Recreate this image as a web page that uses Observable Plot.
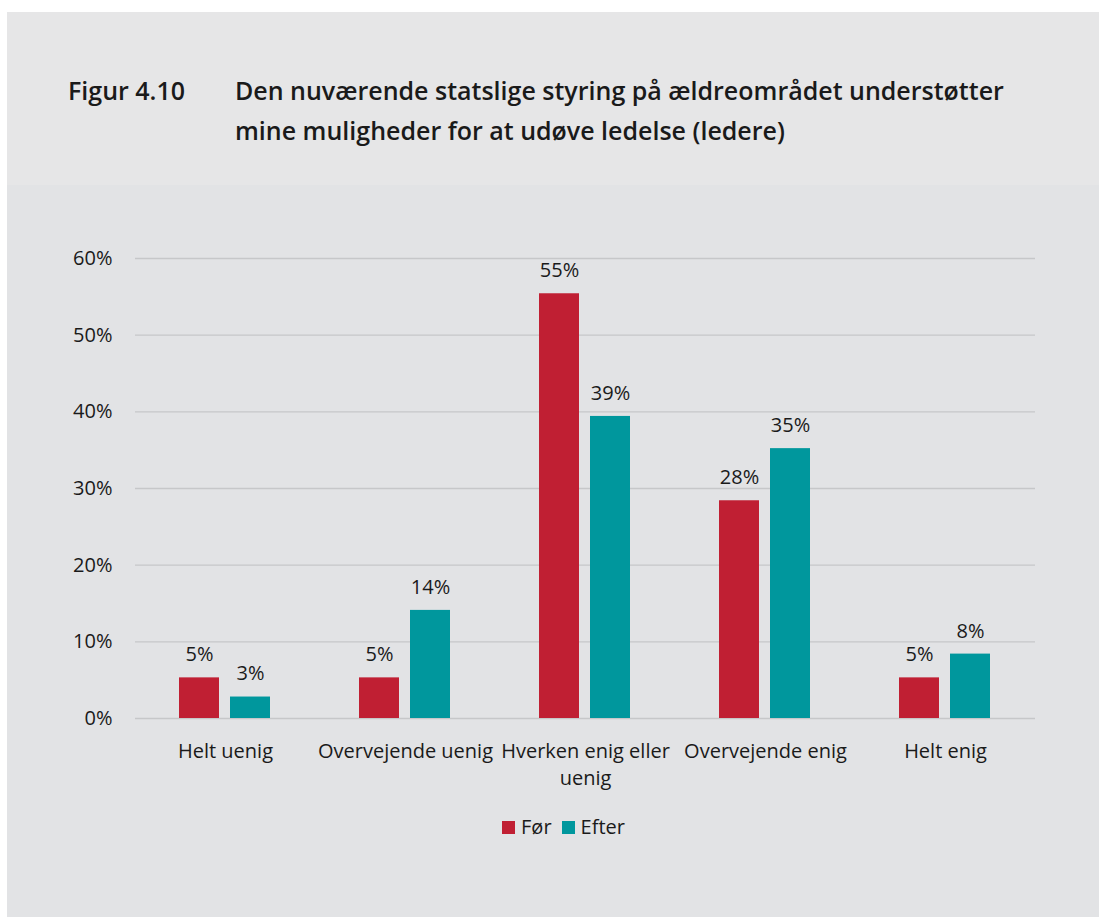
<!DOCTYPE html>
<html><head><meta charset="utf-8">
<script src="https://cdn.jsdelivr.net/npm/d3@7"></script>
<script src="https://cdn.jsdelivr.net/npm/@observablehq/plot@0.6"></script>
<style>
body{margin:0;background:#fff;width:1099px;height:917px;position:relative;overflow:hidden;font-family:"Open Sans",sans-serif;color:#1a1a1a}
#panel{position:absolute;left:7px;top:12px;width:1092px;height:905px;background:#e2e3e5}
#band{position:absolute;left:7px;top:12px;width:1092px;height:173px;background:#e6e6e7}
#fig{position:absolute;left:68px;top:70px;font-size:25px;font-weight:600;line-height:40px}
#title{position:absolute;left:235px;top:70px;width:800px;font-size:25px;font-weight:600;line-height:40px}
#chart{position:absolute;left:0;top:230px}
#legend{position:absolute;left:0;width:1099px;top:813px;text-align:center;font-size:20px;padding-left:28px;box-sizing:border-box}
.sw{display:inline-block;width:13px;height:13px;margin-right:6px;vertical-align:0px}
.it{margin:0 5px}
</style></head><body>
<div id="panel"></div><div id="band"></div>
<div id="fig">Figur 4.10</div>
<div id="title">Den nuværende statslige styring på ældreområdet understøtter mine muligheder for at udøve ledelse (ledere)</div>
<div id="chart"></div>
<div id="legend"></div>
<script>
const categories = ["Helt uenig","Overvejende uenig","Hverken enig eller uenig","Overvejende enig","Helt enig"];
const categoryLabels = ["Helt uenig","Overvejende uenig","Hverken enig eller\nuenig","Overvejende enig","Helt enig"];
const series = ["Før","Efter"];
const colors = ["#c01f33","#00979d"];
const forValues = [5.3, 5.3, 55.4, 28.4, 5.3];
const efterValues = [2.8, 14.1, 39.4, 35.2, 8.4];
const yTicks = [0,10,20,30,40,50,60];

const data = [];
categories.forEach((c,i)=>{
  data.push({cat:c, s:"Før", v:forValues[i]});
  data.push({cat:c, s:"Efter", v:efterValues[i]});
});
const labelOf = Object.fromEntries(categories.map((c,i)=>[c,categoryLabels[i]]));

const plot = Plot.plot({
  width:1099, height:568,
  marginLeft:133, marginRight:63, marginTop:28, marginBottom:80,
  style:{fontFamily:"Open Sans, sans-serif", fontSize:"20px", color:"#1a1a1a", background:"transparent"},
  fx:{domain:categories, padding:0, label:null, axis:null},
  x:{domain:series, paddingInner:0.21, paddingOuter:0.84, axis:null},
  y:{domain:[0,60], ticks:yTicks, label:null},
  color:{domain:series, range:colors},
  marks:[
    Plot.ruleY(yTicks, {stroke:"#c6c7c9", strokeWidth:1.3}),
    Plot.axisY({ticks:yTicks, tickSize:0, tickPadding:23, tickFormat:d=>d+"%", label:null, fontSize:20}),
    Plot.axisFx({anchor:"bottom", tickSize:0, tickPadding:20, tickFormat:d=>labelOf[d], lineHeight:1.35, label:null, fontSize:20, textAnchor:"middle"}),
    Plot.barY(data, {fx:"cat", x:"s", y:"v", fill:"s"}),
    Plot.text(data, {fx:"cat", x:"s", y:"v", text:d=>Math.round(d.v)+"%", dy:-23, fontSize:20, fill:"#1a1a1a"})
  ]
});
document.getElementById("chart").appendChild(plot);

const leg = document.getElementById("legend");
series.forEach((s,i)=>{
  const span=document.createElement("span");span.className="it";
  span.innerHTML=`<span class="sw" style="background:${colors[i]}"></span>${s}`;
  leg.appendChild(span);
});
</script>
</body></html>
